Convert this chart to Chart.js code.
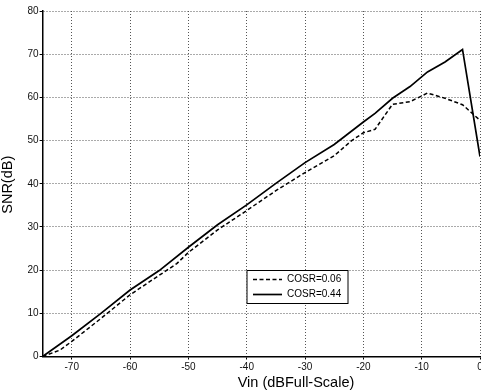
<!DOCTYPE html>
<html><head><meta charset="utf-8">
<script src="https://cdn.jsdelivr.net/npm/chart.js@4"></script>
<style>html,body{margin:0;padding:0;background:#fff;overflow:hidden}
#wrap{position:relative;width:520px;height:392px}</style></head>
<body><div id="wrap"><canvas id="c" width="520" height="392" style="width:520px;height:392px"></canvas></div>
<script>
const xTicks=[-70,-60,-50,-40,-30,-20,-10,0];
const yTicks=[0,10,20,30,40,50,60,70,80];
const seriesNames=['COSR=0.06','COSR=0.44'];
const xDashed=[-75,-72,-70,-65,-60,-55,-52,-50,-45,-40,-35,-30,-25,-22,-20,-18,-15,-12,-9,-6,-3,0];
const yDashed=[0,1.5,3.5,8.8,14.3,18.8,21.5,24.1,29.3,33.8,38.4,42.6,46.5,50.0,51.8,52.6,58.4,59.0,61.0,59.8,58.3,54.7];
const xSolid=[-75,-70,-65,-60,-55,-50,-45,-40,-35,-30,-25,-20,-18,-15,-12,-9,-6,-3,0];
const ySolid=[0,4.8,10.0,15.4,19.9,25.3,30.5,35.1,40.1,44.9,49.1,54.3,56.3,59.8,62.5,65.9,68.2,71.1,46.3];

const FONT='"Liberation Sans", Arial, sans-serif';
const pts=(xs,ys)=>xs.map((x,i)=>({x:x,y:ys[i]}));

const overlay={
  id:'overlay',
  afterDraw(chart){
    const ctx=chart.ctx, ca=chart.chartArea;
    ctx.save();
    ctx.fillStyle='#000';
    ctx.font='14.5px '+FONT;
    ctx.textAlign='center';ctx.textBaseline='middle';
    ctx.fillText('Vin (dBFull-Scale)',296,383);
    ctx.translate(8,(ca.top+ca.bottom)/2+1);
    ctx.rotate(-Math.PI/2);
    ctx.fillText('SNR(dB)',0,0);
    ctx.restore();
    ctx.save();
    const bx=246.5,by=270,bw=101,bh=33;
    ctx.fillStyle='#fff';ctx.fillRect(bx,by,bw,bh);
    ctx.strokeStyle='#000';ctx.lineWidth=1;ctx.strokeRect(bx+0.5,by+0.5,bw,bh);
    const ds=chart.data.datasets;
    const rows=[279.5,294.5];
    ctx.font='10px '+FONT;ctx.textAlign='left';ctx.textBaseline='middle';ctx.fillStyle='#000';
    ds.forEach((d,i)=>{
      ctx.beginPath();
      ctx.setLineDash(d.borderDash||[]);
      ctx.lineWidth=d.borderWidth;ctx.strokeStyle='#000';
      ctx.moveTo(253,rows[i]);ctx.lineTo(282,rows[i]);ctx.stroke();
      ctx.setLineDash([]);
      ctx.fillText(d.label,287,rows[i]);
    });
    ctx.restore();
  }
};

const gridOpts={color:'#555',lineWidth:1,tickLength:3,tickColor:'#000',drawTicks:true,tickBorderDash:[]};
new Chart(document.getElementById('c'),{
  type:'line',
  data:{datasets:[
    {label:seriesNames[0],data:pts(xDashed,yDashed),borderColor:'#000',borderWidth:1.5,borderDash:[4,2.5],pointRadius:0,tension:0,fill:false},
    {label:seriesNames[1],data:pts(xSolid,ySolid),borderColor:'#000',borderWidth:1.7,pointRadius:0,tension:0,fill:false}
  ]},
  options:{
    responsive:false,animation:false,devicePixelRatio:1,
    layout:{padding:{left:0,right:40,top:11,bottom:0}},
    plugins:{legend:{display:false},tooltip:{enabled:false}},
    scales:{
      x:{type:'linear',min:-75,max:0,
        afterBuildTicks:s=>{s.ticks=xTicks.map(v=>({value:v}));},
        afterFit:s=>{s.height=35.5;},
        grid:gridOpts,
        border:{display:true,color:'#000',width:1.5,dash:[1,2]},
        ticks:{font:{family:FONT,size:10},color:'#111',padding:2,maxRotation:0,autoSkip:false}
      },
      y:{type:'linear',min:0,max:80,
        afterBuildTicks:s=>{s.ticks=yTicks.map(v=>({value:v}));},
        afterFit:s=>{s.width=42.6;},
        grid:gridOpts,
        border:{display:true,color:'#000',width:1.5,dash:[1,2]},
        ticks:{font:{family:FONT,size:10},color:'#111',padding:1,autoSkip:false}
      }
    }
  },
  plugins:[overlay]
});
</script></body></html>
